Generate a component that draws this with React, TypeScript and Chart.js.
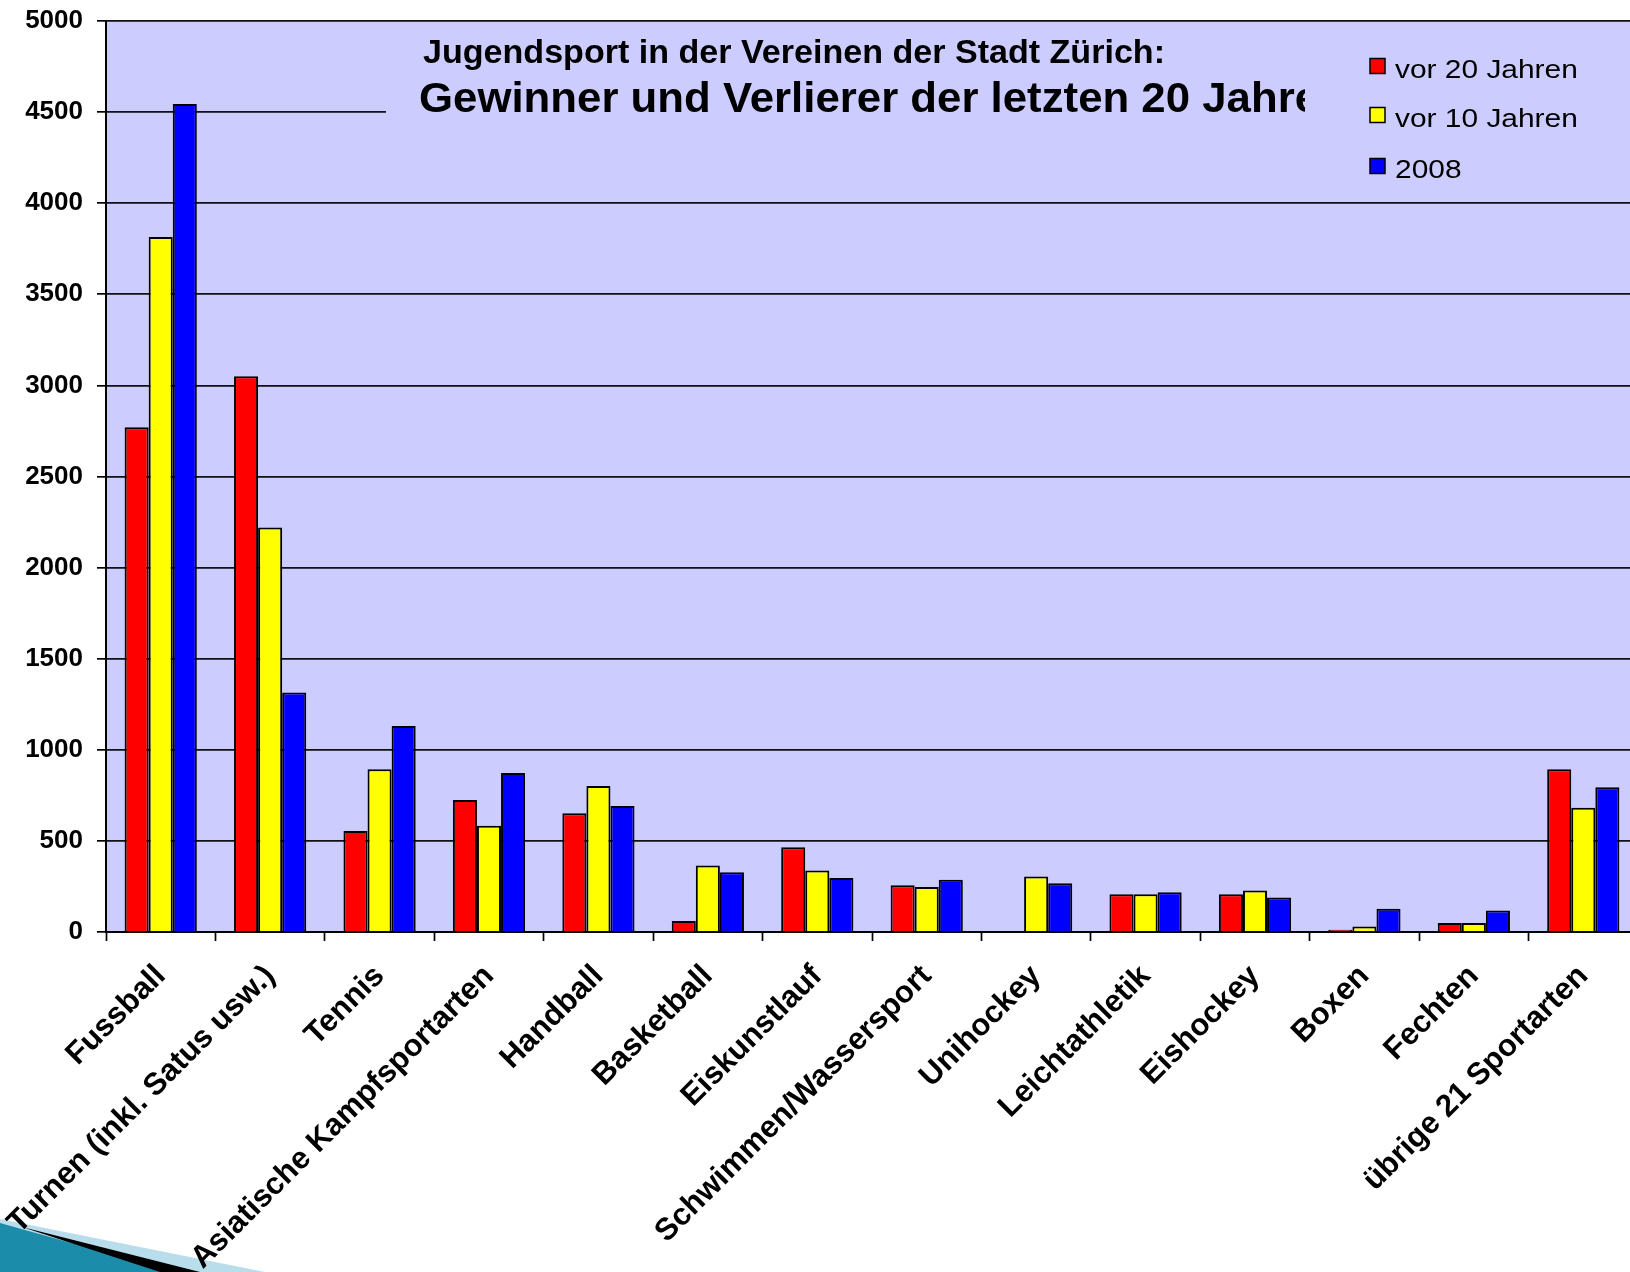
import React, { useEffect, useRef } from "react";
import { Chart, registerables } from "chart.js";

Chart.register(...registerables);

const categories = [
  "Fussball",
  "Turnen (inkl. Satus usw.)",
  "Tennis",
  "Asiatische Kampfsportarten",
  "Handball",
  "Basketball",
  "Eiskunstlauf",
  "Schwimmen/Wassersport",
  "Unihockey",
  "Leichtathletik",
  "Eishockey",
  "Boxen",
  "Fechten",
  "übrige 21 Sportarten",
];

const vor20Jahren = [2770, 3050, 555, 725, 652, 60, 465, 257, null, 207, 207, 12, 50, 893];
const vor10Jahren = [3815, 2220, 893, 583, 802, 365, 337, 247, 305, 207, 228, 30, 50, 682];
const jahr2008 = [4545, 1315, 1130, 872, 692, 328, 297, 287, 267, 218, 189, 128, 118, 795];

const seriesLabels = ["vor 20 Jahren", "vor 10 Jahren", "2008"];
const seriesColors = ["#FF0000", "#FFFF00", "#0000FF"];

const titleLine1 = "Jugendsport in der Vereinen der Stadt Zürich:";
const titleLine2 = "Gewinner und Verlierer der letzten 20 Jahre";

const FONT = '"Liberation Sans", Arial, Helvetica, sans-serif';
const PLOT_BG = "#CCCCFF";

function drawScaledText(ctx: CanvasRenderingContext2D, text: string, x: number, y: number, font: string, targetWidth: number | null, sx?: number) {
  ctx.save();
  ctx.font = font;
  const w = ctx.measureText(text).width;
  const s = targetWidth ? targetWidth / w : sx || 1;
  ctx.translate(x, y);
  ctx.scale(s, 1);
  ctx.fillText(text, 0, 0);
  ctx.restore();
}

const decorPlugin = {
  id: "decor",
  beforeDraw(chart: any) {
    const { ctx, chartArea } = chart;
    ctx.save();
    ctx.fillStyle = "#FFFFFF";
    ctx.fillRect(0, 0, chart.width, chart.height);
    ctx.fillStyle = PLOT_BG;
    ctx.fillRect(chartArea.left, chartArea.top, chartArea.right - chartArea.left, chartArea.bottom - chartArea.top);
    // bottom-left slide decoration
    const H = chart.height;
    ctx.fillStyle = "#B9DDEA";
    ctx.beginPath();
    ctx.moveTo(0, H - 53);
    ctx.lineTo(265, H);
    ctx.lineTo(0, H);
    ctx.closePath();
    ctx.fill();
    ctx.fillStyle = "#1C8CAB";
    ctx.beginPath();
    ctx.moveTo(0, H - 49);
    ctx.lineTo(175, H);
    ctx.lineTo(0, H);
    ctx.closePath();
    ctx.fill();
    ctx.fillStyle = "#000000";
    ctx.beginPath();
    ctx.moveTo(22, H - 45);
    ctx.lineTo(200, H);
    ctx.lineTo(160, H);
    ctx.closePath();
    ctx.fill();
    ctx.restore();
  },
  beforeDatasetsDraw(chart: any) {
    const { ctx, chartArea } = chart;
    ctx.save();
    // title / legend box covering the grid lines
    ctx.fillStyle = PLOT_BG;
    ctx.fillRect(386, 30, chartArea.right - 386, 160);
    ctx.fillStyle = "#000000";
    ctx.textBaseline = "alphabetic";
    ctx.textAlign = "left";
    drawScaledText(ctx, titleLine1, 423, 63, `bold 33px ${FONT}`, 742);
    ctx.save();
    ctx.beginPath();
    ctx.rect(380, 60, 1305 - 380, 70);
    ctx.clip();
    drawScaledText(ctx, titleLine2, 419, 112, `bold 42px ${FONT}`, 900);
    ctx.restore();
    // legend
    const rows = [66, 115, 166];
    for (let i = 0; i < seriesLabels.length; i++) {
      const cy = rows[i];
      ctx.fillStyle = seriesColors[i];
      ctx.fillRect(1370, cy - 7.5, 15, 15);
      ctx.strokeStyle = "#000000";
      ctx.lineWidth = 1.5;
      ctx.strokeRect(1370, cy - 7.5, 15, 15);
      ctx.fillStyle = "#000000";
      drawScaledText(ctx, seriesLabels[i], 1395, cy + 12, `26px ${FONT}`, null, 1.15);
    }
    ctx.restore();
  },
};

export default function App() {
  const canvasRef = useRef<HTMLCanvasElement | null>(null);

  useEffect(() => {
    if (!canvasRef.current) return;
    document.body.style.margin = "0";
    document.body.style.overflow = "hidden";
    const chart = new Chart(canvasRef.current, {
      type: "bar",
      data: {
        labels: categories,
        datasets: [
          { label: seriesLabels[0], data: vor20Jahren, backgroundColor: seriesColors[0] },
          { label: seriesLabels[1], data: vor10Jahren, backgroundColor: seriesColors[1] },
          { label: seriesLabels[2], data: jahr2008, backgroundColor: seriesColors[2] },
        ].map((d) => ({
          ...d,
          borderColor: "#000000",
          borderWidth: 2,
          borderSkipped: "bottom",
          barPercentage: 1,
          categoryPercentage: 0.66,
        })) as any,
      },
      options: {
        responsive: false,
        animation: false,
        devicePixelRatio: 1,
        layout: { padding: { top: 21, right: 2, left: 0, bottom: 0 } },
        plugins: {
          legend: { display: false },
          title: { display: false },
          tooltip: { enabled: false },
        },
        scales: {
          x: {
            afterFit: (scale: any) => {
              scale.height = 340;
              scale.paddingLeft = 0;
              scale.paddingRight = 0;
            },
            grid: {
              offset: true,
              drawOnChartArea: false,
              drawTicks: true,
              tickLength: 9,
              tickWidth: 1.7,
              tickColor: "#000000",
            },
            border: { display: true, color: "#000000", width: 2 },
            ticks: {
              autoSkip: false,
              maxRotation: 45,
              minRotation: 45,
              padding: 17,
              labelOffset: 0,
              color: "#000000",
              font: { family: FONT, size: 31, weight: "bold" },
            },
          },
          y: {
            min: 0,
            max: 5000,
            afterFit: (scale: any) => {
              scale.width = 106;
              scale.paddingTop = 0;
              scale.paddingBottom = 0;
            },
            grid: {
              color: "#111111",
              lineWidth: 1.7,
              tickLength: 9,
              tickColor: "#000000",
              tickWidth: 1.7,
            },
            border: { display: true, color: "#000000", width: 2 },
            ticks: {
              stepSize: 500,
              padding: 14,
              color: "#000000",
              callback: (v: any) => String(v),
              font: { family: FONT, size: 26, weight: "bold" },
            },
          },
        },
      },
      plugins: [decorPlugin],
    });
    return () => chart.destroy();
  }, []);

  return (
    <div style={{ position: "fixed", left: 0, top: 0, width: 1630, height: 1272, overflow: "hidden", background: "#fff" }}>
      <canvas ref={canvasRef} width={1640} height={1272} style={{ width: 1640, height: 1272, display: "block" }} />
    </div>
  );
}
